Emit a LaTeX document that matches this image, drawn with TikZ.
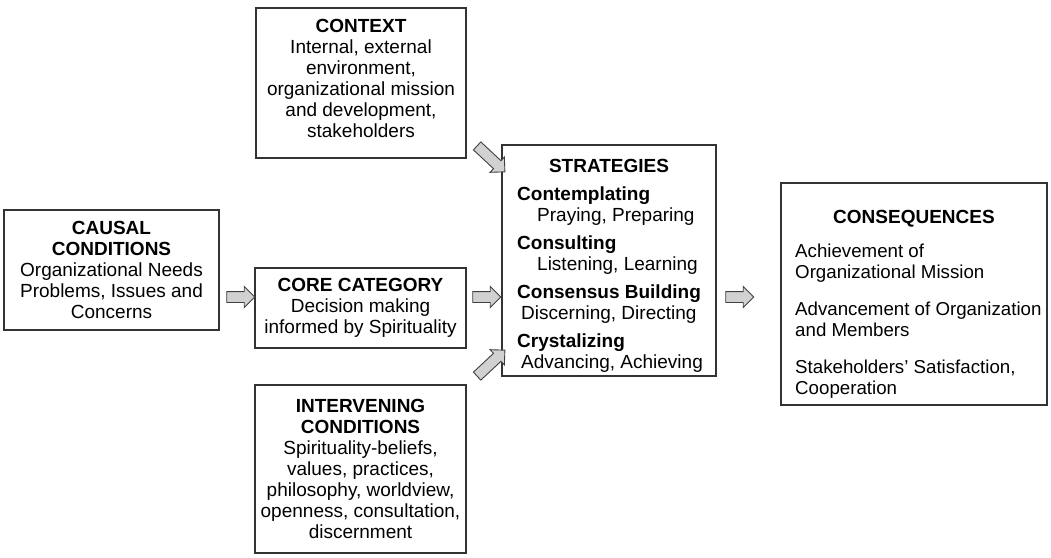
\documentclass[tikz,border=0pt]{standalone}
\usepackage{fontspec}
\setmainfont{Liberation Sans}
\usetikzlibrary{shapes.arrows}

\tikzset{
  box/.style={draw=black!80, line width=1.1pt, inner sep=0pt, align=center,
    font=\fontsize{19}{21}\selectfont},
  txt/.style={inner sep=0pt, font=\fontsize{19}{21}\selectfont},
  blockarrow/.style={single arrow, draw=black!75, fill=black!18, line width=0.9pt,
    minimum height=28pt, inner xsep=0pt, inner ysep=5pt,
    single arrow head extend=5pt},
}

\begin{document}
\begin{tikzpicture}[x=1pt, y=-1pt]
      \useasboundingbox (0,0) rectangle (1051,557);

      % the boxes
      \node[box, minimum width=210pt, minimum height=150pt, text depth=10pt] (context) at (361,83)
        {\textbf{CONTEXT}\\Internal, external\\environment,\\organizational mission\\and development,\\stakeholders};
      \node[box, minimum width=215pt, minimum height=120pt] (causal) at (111.5,270)
        {\textbf{CAUSAL}\\\textbf{CONDITIONS}\\Organizational Needs\\Problems, Issues and\\Concerns};
      \node[box, minimum width=211pt, minimum height=80pt] (core) at (360.5,308)
        {\textbf{CORE CATEGORY}\\Decision making\\informed by Spirituality};
      \node[box, minimum width=211pt, minimum height=168pt] (interv) at (360.5,469)
        {\textbf{INTERVENING}\\\textbf{CONDITIONS}\\Spirituality-beliefs,\\values, practices,\\philosophy, worldview,\\openness, consultation,\\discernment};
      \node[box, minimum width=214pt, minimum height=231pt] (strat) at (609,260.5) {};
      \node[box, minimum width=266pt, minimum height=222pt] (conseq) at (914,294) {};

      % strategies list
      \node[txt, anchor=north] (strattitle) at (609,159) {\textbf{STRATEGIES}};
      \node[txt, anchor=north west, align=left] (stratlist) at (517,187)
        {\textbf{Contemplating}\\\hspace{20pt}Praying, Preparing\\[7pt]
         \textbf{Consulting}\\\hspace{20pt}Listening, Learning\\[7pt]
         \textbf{Consensus Building}\\\hspace{4pt}Discerning, Directing\\[7pt]
         \textbf{Crystalizing}\\\hspace{4pt}Advancing, Achieving};

      % consequences list
      \node[txt, anchor=north] (constitle) at (914,210) {\textbf{CONSEQUENCES}};
      \node[txt, anchor=north west, align=left, font=\fontsize{18.7}{21}\selectfont] (conslist) at (795,244)
        {Achievement of\\Organizational Mission\\[16pt]
         Advancement of Organization\\and Members\\[16pt]
         Stakeholders' Satisfaction,\\Cooperation};

      % block arrows between the boxes
      \node[blockarrow] (a1) at (238,297) {};
      \node[blockarrow] (a2) at (484,297) {};
      \node[blockarrow] (a3) at (737,297) {};
      \node[blockarrow, minimum height=38pt, rotate=-43] (a4) at (489,157) {};
      \node[blockarrow, minimum height=38pt, rotate=43] (a5) at (489,365) {};

\end{tikzpicture}
\end{document}
